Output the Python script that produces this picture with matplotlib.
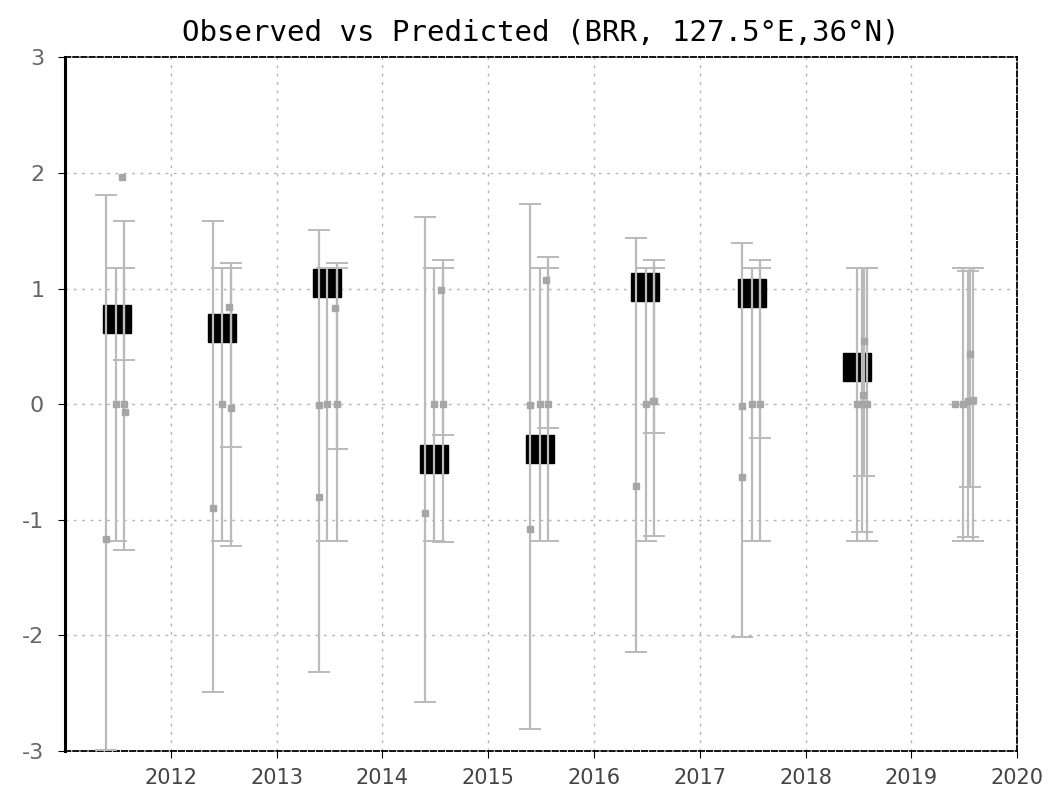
import numpy as np
import matplotlib
matplotlib.use("Agg")
import matplotlib.pyplot as plt

# observed values (black squares)
obs_x = [2011.49, 2012.48, 2013.48, 2014.49, 2015.49, 2016.485, 2017.49, 2018.49]
obs_y = [0.74, 0.66, 1.05, -0.475, -0.39, 1.01, 0.96, 0.32]

# predicted ranges (gray bars): x, low, high
bar_x = [2011.39, 2011.48, 2011.56, 2011.56,
         2012.40, 2012.487, 2012.566, 2012.566,
         2013.40, 2013.48, 2013.57, 2013.57,
         2014.40, 2014.49, 2014.57, 2014.57,
         2015.40, 2015.49, 2015.57, 2015.57,
         2016.40, 2016.49, 2016.57, 2016.57,
         2017.40, 2017.49, 2017.57, 2017.57,
         2018.49, 2018.535, 2018.58, 2018.555,
         2019.49, 2019.54, 2019.58, 2019.555]
bar_low = [-2.99, -1.18, -1.26, 0.38,
           -2.49, -1.18, -1.23, -0.37,
           -2.32, -1.18, -1.18, -0.39,
           -2.58, -1.18, -1.19, -0.27,
           -2.81, -1.18, -1.18, -0.21,
           -2.14, -1.18, -1.14, -0.25,
           -2.01, -1.18, -1.18, -0.29,
           -1.18, -1.11, -1.18, -0.62,
           -1.18, -1.15, -1.18, -0.72]
bar_high = [1.81, 1.18, 1.58, 1.18,
            1.585, 1.18, 1.22, 1.18,
            1.51, 1.18, 1.22, 1.18,
            1.62, 1.18, 1.25, 1.18,
            1.735, 1.18, 1.27, 1.18,
            1.44, 1.18, 1.25, 1.18,
            1.39, 1.18, 1.245, 1.18,
            1.18, 1.18, 1.18, 1.18,
            1.18, 1.15, 1.18, 1.18]

# predicted values (small gray squares)
pred_x = [2011.39, 2011.48, 2011.56, 2011.565, 2011.535,
          2012.40, 2012.487, 2012.566, 2012.55,
          2013.40, 2013.40, 2013.48, 2013.57, 2013.55,
          2014.40, 2014.49, 2014.57, 2014.555,
          2015.40, 2015.40, 2015.49, 2015.57, 2015.545,
          2016.40, 2016.49, 2016.555, 2016.57,
          2017.40, 2017.40, 2017.49, 2017.57,
          2018.49, 2018.535, 2018.58, 2018.545, 2018.555,
          2019.41, 2019.49, 2019.54, 2019.58, 2019.555]
pred_y = [-1.17, 0.0, 0.0, -0.07, 1.96,
          -0.90, 0.0, -0.03, 0.84,
          -0.80, -0.01, 0.0, 0.0, 0.83,
          -0.945, 0.0, 0.0, 0.985,
          -1.08, -0.01, 0.0, 0.0, 1.07,
          -0.71, 0.0, 0.03, 0.03,
          -0.63, -0.015, 0.0, 0.0,
          0.0, 0.0, 0.0, 0.08, 0.55,
          0.0, 0.0, 0.03, 0.04, 0.43]

year_ticks = list(range(2012, 2021))
y_ticks = [-3, -2, -1, 0, 1, 2, 3]

fig = plt.figure(figsize=(10.54, 7.95), dpi=100)
ax = fig.add_axes([0.0617, 0.0553, 0.9033, 0.8727])

# black observation squares below the gray bars
ax.plot(obs_x, obs_y, 's', color='black', markersize=19.5, zorder=2)

lo = np.array(bar_low)
hi = np.array(bar_high)
ax.errorbar(bar_x, (lo + hi) / 2, yerr=(hi - lo) / 2, fmt='none',
            ecolor='#bababa', elinewidth=1.6, capsize=8, capthick=1.4, zorder=3)
ax.plot(pred_x, pred_y, 's', color='#a6a6a6', markersize=5, zorder=4)

ax.set_xlim(2011, 2020)
ax.set_ylim(-3, 3)
ax.set_xticks(year_ticks)
ax.set_yticks(y_ticks)
ax.set_xticklabels([str(y) for y in year_ticks], fontsize=15, color='#444444')
ax.set_yticklabels([str(v) for v in y_ticks], fontsize=16, color='#666666')
ax.tick_params(axis='x', direction='out', length=5, pad=7)
ax.tick_params(axis='y', direction='out', length=5, pad=10)

# dotted grid, only interior lines
for yv in y_ticks[1:-1]:
    ax.axhline(yv, color='#b4b4b4', linestyle=(0, (2, 4)), linewidth=1.0, zorder=1)
for xv in year_ticks[:-1]:
    ax.axvline(xv, color='#b4b4b4', linestyle=(0, (2, 4)), linewidth=1.0, zorder=1)

ax.spines['left'].set_linewidth(2.2)
for side in ['top', 'right', 'bottom']:
    ax.spines[side].set_linestyle((0, (3, 1.5)))
    ax.spines[side].set_linewidth(1.3)

ax.set_title('Observed vs Predicted (BRR, 127.5°E,36°N)', fontsize=21,
             family='DejaVu Sans Mono', pad=12)

fig.savefig('out.png', dpi=100)
